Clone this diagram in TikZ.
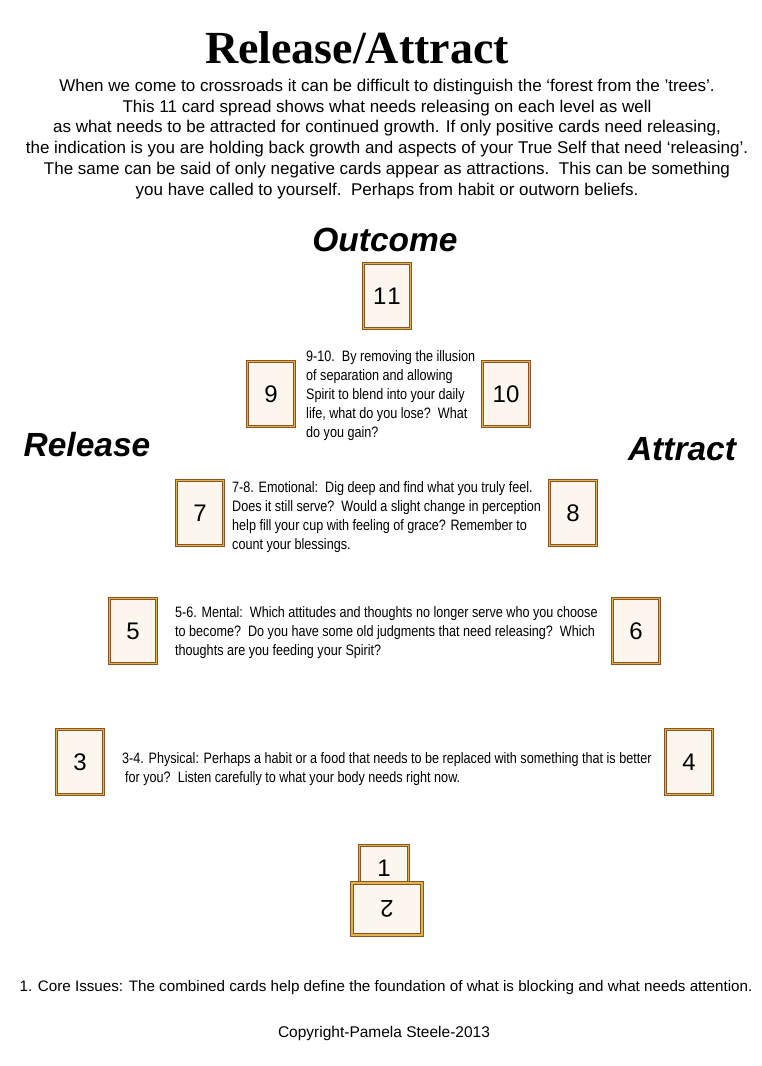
\documentclass[tikz,border=0pt]{standalone}
\usepackage{fontspec}
\setmainfont{Liberation Sans}
\newfontfamily\narrowfont[FakeStretch=0.835]{Liberation Sans}
\newfontfamily\titlefont{Liberation Serif}
\definecolor{cardcream}{HTML}{FCF6EF}
\definecolor{cardbrown}{HTML}{8A5523}
\definecolor{cardgold}{HTML}{E2B24C}
\tikzset{
  card/.style={draw=cardbrown, double=cardgold, double distance=1.6pt, line width=1pt,
    fill=cardcream, minimum width=47, minimum height=65, inner sep=0,
    font=\fontsize{24}{24}\selectfont},
  heading/.style={font=\fontsize{33.5}{34}\selectfont\bfseries\itshape, inner sep=0},
  desc/.style={anchor=north west, align=left, inner sep=0,
    font=\narrowfont\fontsize{15.1}{19}\selectfont},
}
\begin{document}
\begin{tikzpicture}[x=1pt,y=-1pt]
\useasboundingbox[fill=white] (0,0) rectangle (762,1066);

\node (title) [inner sep=0, font=\titlefont\fontsize{46}{46}\selectfont\bfseries] at (357,48) {Release/Attract};

\node (intro) [anchor=north, align=center, inner sep=0, font=\fontsize{17}{20.7}\selectfont] at (387,79)
{When we come to crossroads it can be difficult to distinguish the ‘forest from the ’trees’.\\
This 11 card spread shows what needs releasing on each level as well\\
as what needs to be attracted for continued growth. If only positive cards need releasing,\\
the indication is you are holding back growth and aspects of your True Self that need ‘releasing’.\\
The same can be said of only negative cards appear as attractions.\ \ This can be something\\
you have called to yourself.\ \ Perhaps from habit or outworn beliefs.};

\node (outcome) [heading] at (385,240) {Outcome};
\node (release) [heading] at (87,445) {Release};
\node (attract) [heading] at (682,449) {Attract};

\node (c11) [card] at (387,296) {1\kern1pt1};
\node (c9)  [card] at (271,394) {9};
\node (c10) [card] at (506,394) {10};
\node (c7)  [card] at (200,513) {7};
\node (c8)  [card] at (573,513) {8};
\node (c5)  [card] at (133,631) {5};
\node (c6)  [card] at (636,631) {6};
\node (c3)  [card] at (80,762) {3};
\node (c4)  [card] at (689,762) {4};

\node (c1) [card, minimum width=49, minimum height=45] at (384,868) {1};
\node (c2) [card, minimum width=70, minimum height=52] at (387,909) {\rotatebox{180}{2}};

\node (t910) [desc] at (306,350)
{9-10.\ \ By removing the illusion\\
of separation and allowing\\
Spirit to blend into your daily\\
life, what do you lose?\ \ What\\
do you gain?};

\node (t78) [desc] at (232,481)
{7-8. Emotional:\ \ Dig deep and find what you truly feel.\\
Does it still serve?\ \ Would a slight change in perception\\
help fill your cup with feeling of grace? Remember to\\
count your blessings.};

\node (t56) [desc] at (175,606)
{5-6. Mental:\ \ Which attitudes and thoughts no longer serve who you choose\\
to become?\ \ Do you have some old judgments that need releasing?\ \ Which\\
thoughts are you feeding your Spirit?};

\node (t34) [desc] at (122,752)
{3-4. Physical: Perhaps a habit or a food that needs to be replaced with something that is better\\
\hspace{3pt}for you?\ \ Listen carefully to what your body needs right now.};

\node (core) [inner sep=0, font=\fontsize{15.2}{18}\selectfont] at (386,988)
{1. Core Issues: The combined cards help define the foundation of what is blocking and what needs attention.};

\node (copy) [inner sep=0, font=\fontsize{15.5}{18}\selectfont] at (384,1033) {Copyright-Pamela Steele-2013};
\end{tikzpicture}
\end{document}
